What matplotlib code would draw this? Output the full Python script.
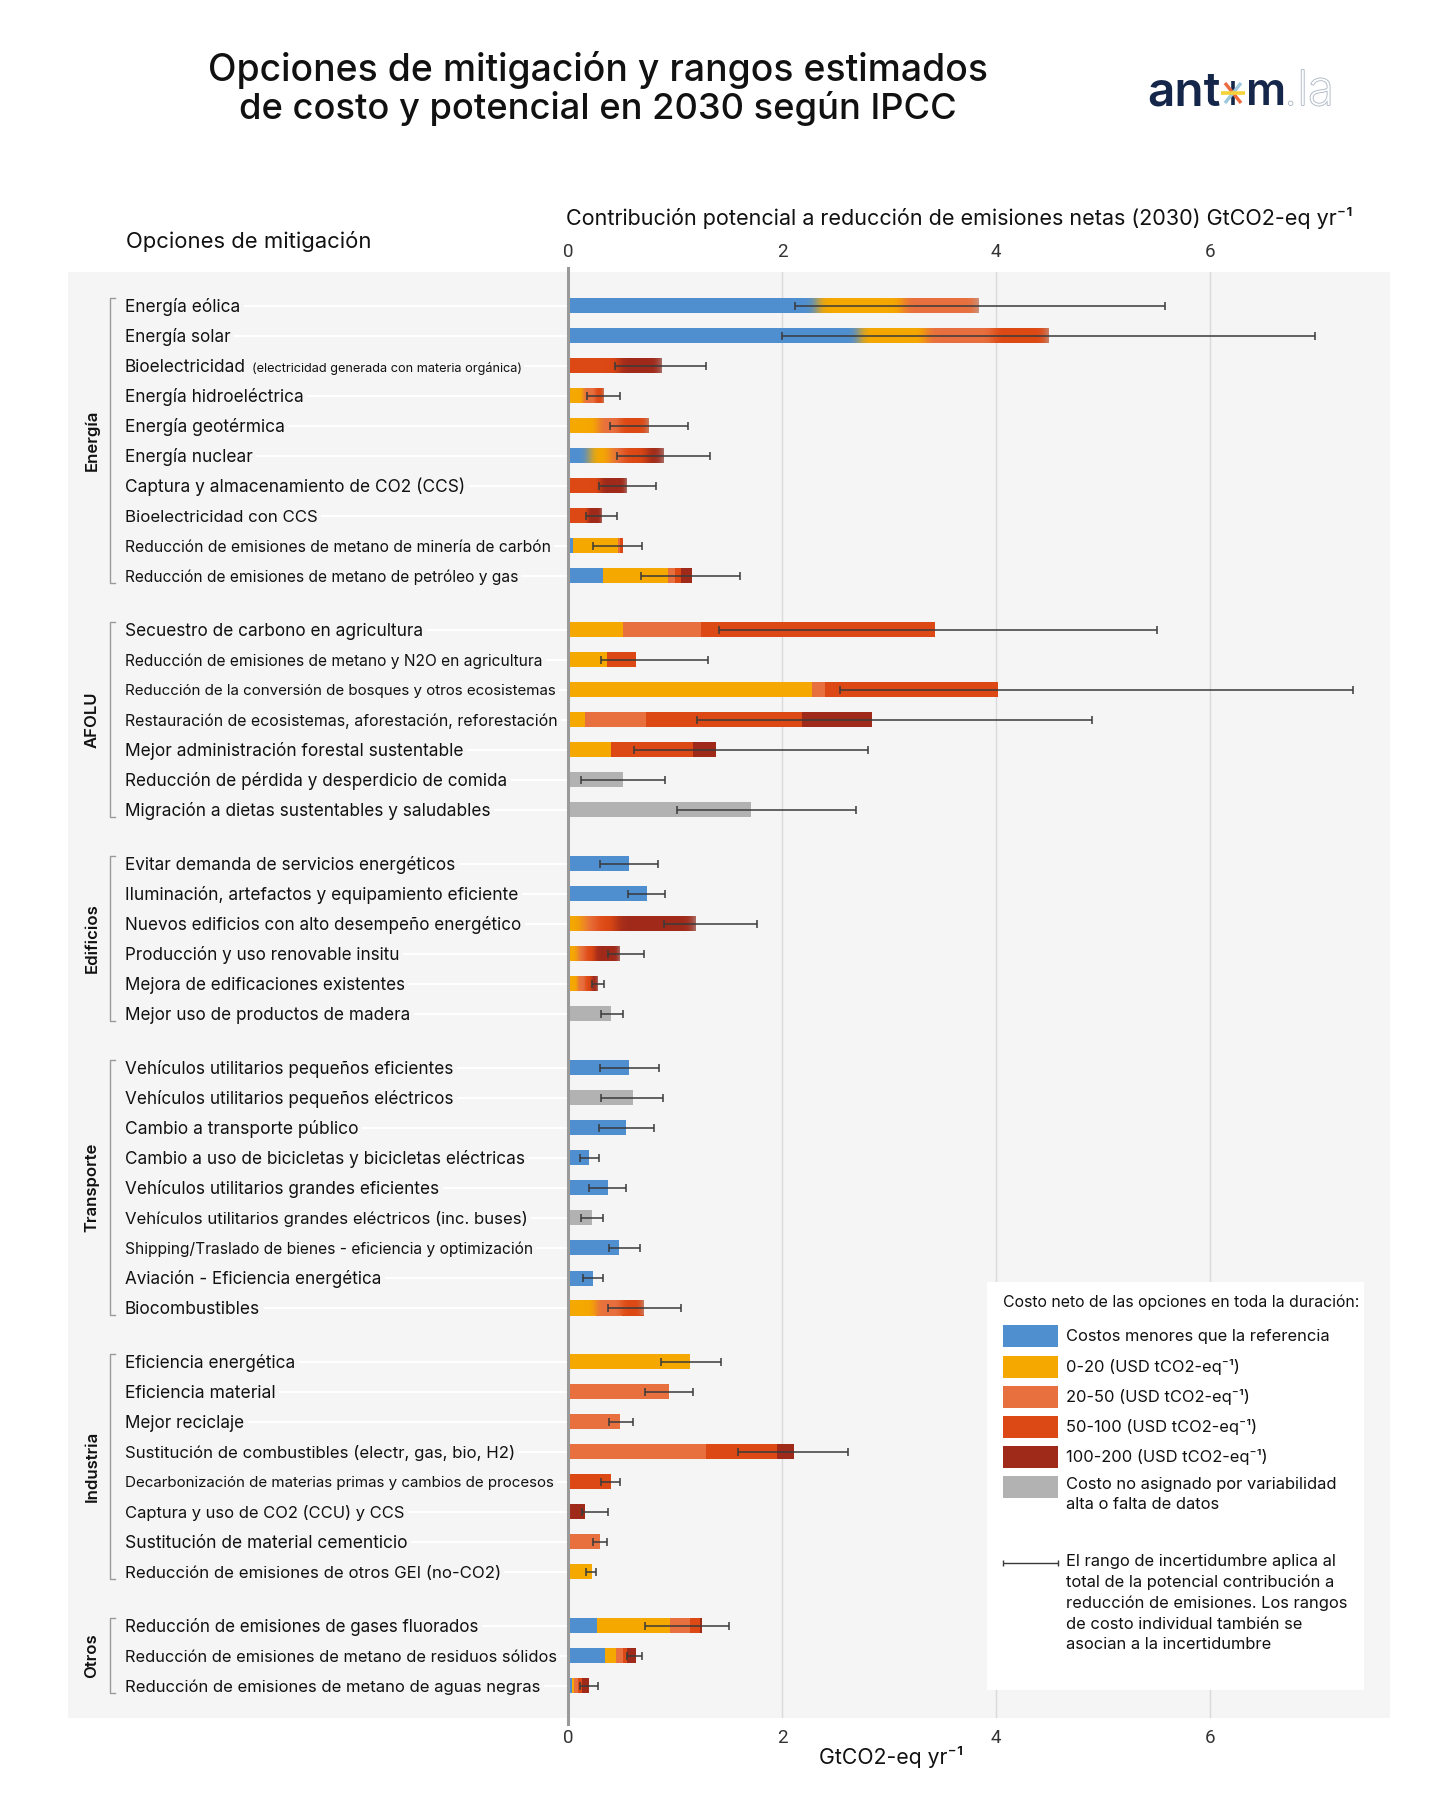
import matplotlib.pyplot as plt
import matplotlib.patheffects as pe
import numpy as np
from matplotlib import font_manager
from matplotlib.colors import to_rgb
from matplotlib.patches import Rectangle

plt.rcParams["font.family"] = ["Inter", "DejaVu Sans"]

# --- data -------------------------------------------------------------------
GROUPS = ["Energía", "AFOLU", "Edificios", "Transporte", "Industria", "Otros"]
GROUP_SIZES = [10, 7, 6, 9, 8, 3]

OPTIONS = [
    "Energía eólica", "Energía solar", "Bioelectricidad", "Energía hidroeléctrica",
    "Energía geotérmica", "Energía nuclear", "Captura y almacenamiento de CO2 (CCS)",
    "Bioelectricidad con CCS", "Reducción de emisiones de metano de minería de carbón",
    "Reducción de emisiones de metano de petróleo y gas",
    "Secuestro de carbono en agricultura",
    "Reducción de emisiones de metano y N2O en agricultura",
    "Reducción de la conversión de bosques y otros ecosistemas",
    "Restauración de ecosistemas, aforestación, reforestación",
    "Mejor administración forestal sustentable",
    "Reducción de pérdida y desperdicio de comida",
    "Migración a dietas sustentables y saludables",
    "Evitar demanda de servicios energéticos",
    "Iluminación, artefactos y equipamiento eficiente",
    "Nuevos edificios con alto desempeño energético",
    "Producción y uso renovable insitu", "Mejora de edificaciones existentes",
    "Mejor uso de productos de madera",
    "Vehículos utilitarios pequeños eficientes",
    "Vehículos utilitarios pequeños eléctricos", "Cambio a transporte público",
    "Cambio a uso de bicicletas y bicicletas eléctricas",
    "Vehículos utilitarios grandes eficientes",
    "Vehículos utilitarios grandes eléctricos (inc. buses)",
    "Shipping/Traslado de bienes - eficiencia y optimización",
    "Aviación - Eficiencia energética", "Biocombustibles",
    "Eficiencia energética", "Eficiencia material", "Mejor reciclaje",
    "Sustitución de combustibles (electr, gas, bio, H2)",
    "Decarbonización de materias primas y cambios de procesos",
    "Captura y uso de CO2 (CCU) y CCS", "Sustitución de material cementicio",
    "Reducción de emisiones de otros GEI (no-CO2)",
    "Reducción de emisiones de gases fluorados",
    "Reducción de emisiones de metano de residuos sólidos",
    "Reducción de emisiones de metano de aguas negras",
]
BIOELEC_NOTE = "(electricidad generada con materia orgánica)"

# contribution per cost band (GtCO2-eq/yr)
BLUE = [2.33, 2.72, 0, 0, 0, 0.20, 0, 0, 0.05, 0.33,
        0, 0, 0, 0, 0, 0, 0,
        0.57, 0.74, 0, 0, 0, 0,
        0.57, 0, 0.54, 0.20, 0.37, 0, 0.48, 0.23, 0,
        0, 0, 0, 0, 0, 0, 0, 0,
        0.27, 0.35, 0.04]
YELLOW = [0.80, 0.62, 0, 0.14, 0.28, 0.19, 0, 0, 0.42, 0.60,
          0.51, 0.36, 2.28, 0.16, 0.40, 0, 0,
          0, 0, 0.14, 0.09, 0.09, 0,
          0, 0, 0, 0, 0, 0, 0, 0, 0.26,
          1.14, 0, 0, 0, 0, 0, 0, 0.22,
          0.68, 0.10, 0.02]
ORANGE = [0.71, 0.63, 0, 0.11, 0.20, 0.12, 0, 0, 0.02, 0.07,
          0.73, 0, 0.12, 0.57, 0, 0, 0,
          0, 0, 0.12, 0.07, 0.07, 0,
          0, 0, 0, 0, 0, 0, 0, 0, 0.24,
          0, 0.94, 0.49, 1.29, 0, 0, 0.30, 0,
          0.19, 0.06, 0.03]
RED = [0, 0.52, 0.47, 0.08, 0.27, 0.22, 0.30, 0.18, 0.02, 0.06,
       2.19, 0.28, 1.62, 1.46, 0.77, 0, 0,
       0, 0, 0.19, 0.09, 0.06, 0,
       0, 0, 0, 0, 0, 0, 0, 0, 0.21,
       0, 0, 0, 0.66, 0.40, 0, 0, 0,
       0.09, 0.04, 0.04]
DARK = [0, 0, 0.40, 0, 0, 0.16, 0.25, 0.13, 0, 0.10,
        0, 0, 0, 0.65, 0.21, 0, 0,
        0, 0, 0.74, 0.23, 0.06, 0,
        0, 0, 0, 0, 0, 0, 0, 0, 0,
        0, 0, 0, 0.16, 0, 0.16, 0, 0,
        0.02, 0.09, 0.07]
GRAY = [0, 0, 0, 0, 0, 0, 0, 0, 0, 0,
        0, 0, 0, 0, 0, 0.51, 1.71,
        0, 0, 0, 0, 0, 0.40,
        0, 0.61, 0, 0, 0, 0.22, 0, 0, 0,
        0, 0, 0, 0, 0, 0, 0, 0,
        0, 0, 0]
# uncertainty range of total contribution
ERR_LOW = [2.12, 2.00, 0.44, 0.18, 0.39, 0.46, 0.29, 0.17, 0.23, 0.68,
           1.41, 0.31, 2.54, 1.21, 0.62, 0.12, 1.02,
           0.30, 0.56, 0.90, 0.37, 0.22, 0.31,
           0.30, 0.31, 0.29, 0.11, 0.20, 0.12, 0.38, 0.14, 0.37,
           0.87, 0.72, 0.38, 1.59, 0.31, 0.13, 0.23, 0.17,
           0.72, 0.55, 0.11]
ERR_HIGH = [5.58, 6.98, 1.29, 0.49, 1.12, 1.33, 0.82, 0.46, 0.69, 1.61,
            5.50, 1.31, 7.34, 4.90, 2.80, 0.91, 2.69,
            0.84, 0.91, 1.77, 0.71, 0.34, 0.51,
            0.85, 0.89, 0.80, 0.29, 0.54, 0.33, 0.67, 0.33, 1.06,
            1.43, 1.17, 0.61, 2.62, 0.49, 0.37, 0.36, 0.26,
            1.50, 0.69, 0.28]

LEGEND_LABELS = [
    "Costos menores que la referencia",
    "0-20 (USD tCO2-eq⁻¹)",
    "20-50 (USD tCO2-eq⁻¹)",
    "50-100 (USD tCO2-eq⁻¹)",
    "100-200 (USD tCO2-eq⁻¹)",
    "Costo no asignado por variabilidad\nalta o falta de datos",
]
XTICKS = [0, 2, 4, 6]

# --- style ------------------------------------------------------------------
COLORS = ["#4f8fd0", "#f5a800", "#e8703f", "#dd4914", "#a02a1a", "#b2b2b2"]
PANEL = "#f5f5f5"
INK = "#111111"
ERR_COLOR = "#3a3a3a"

# rows whose cost bands fade into each other in the original graphic
BLENDED = {0, 1, 2, 3, 4, 5, 6, 7, 19, 20, 21, 31}

# label widths in the reference (px), used to size each label
LABEL_W = [115, 105, 121, 178, 160, 127, 339, 193, 426, 394,
           297, 417, 434, 432, 338, 382, 364,
           330, 393, 395, 273, 280, 285,
           327, 327, 234, 399, 313, 402, 407, 256, 135,
           170, 151, 119, 390, 432, 280, 283, 376,
           354, 430, 416]

W, H = 1456, 1794
X0_PX, PX_UNIT = 568, 107          # x=0 position and px per GtCO2
ROW_PX, Y0_PX = 30, 306            # row pitch and first row centre
PANEL_L, PANEL_R, PANEL_T, PANEL_B = 68, 1390, 272, 1718
BAR_H = 0.5


def px_x(px):
    return (px - X0_PX) / PX_UNIT


# row positions with a gap between groups
ypos = []
row = 0.0
for g, n in enumerate(GROUP_SIZES):
    for _ in range(n):
        ypos.append(row)
        row += 1
    row += 0.8
ypos = np.array(ypos)

fig = plt.figure(figsize=(W / 100, H / 100), dpi=100)
fig.patch.set_facecolor("white")
renderer = fig.canvas.get_renderer()


def fit(t, width):
    w = t.get_window_extent(renderer=renderer).width
    t.set_fontsize(t.get_fontsize() * width / w)
    return t


# overlay in pixel coordinates for title, logo and axis titles
over = fig.add_axes([0, 0, 1, 1], zorder=0)
over.set_xlim(0, W)
over.set_ylim(H, 0)
over.axis("off")

t1 = over.text(598, 70, "Opciones de mitigación y rangos estimados", ha="center",
               va="center", fontsize=26, fontweight="medium", color=INK)
t2 = over.text(598, 109, "de costo y potencial en 2030 según IPCC", ha="center",
               va="center", fontsize=26, fontweight="medium", color=INK)
fit(t1, 780)
fit(t2, 718)

# logo
navy = "#14264a"
ta = over.text(1147, 105, "ant", ha="left", va="baseline", fontsize=30,
               fontweight="semibold", color=navy)
fit(ta, 73)
tm = over.text(1246, 105, "m", ha="left", va="baseline", fontsize=30,
               fontweight="semibold", color=navy)
fit(tm, 40)
tl = over.text(1284, 105, ".la", ha="left", va="baseline", fontsize=30,
               fontweight="light", color="white")
tl.set_path_effects([pe.Stroke(linewidth=1.2, foreground="#a9b3c2"), pe.Normal()])
fit(tl, 50)
cx, cy = 1233, 93
over.plot([cx, cx], [cy - 12, cy + 12], color=navy, lw=2.6, solid_capstyle="butt")
over.plot([cx - 8, cx + 8], [cy - 10, cy + 10], color="#ec6a3c", lw=2.4,
          solid_capstyle="butt")
over.plot([cx - 8, cx + 8], [cy + 10, cy - 10], color="#9cc7dc", lw=2.4,
          solid_capstyle="butt")
over.plot([cx - 12, cx + 12], [cy, cy], color="#f6d23a", lw=2.6, solid_capstyle="butt")

ttop = over.text(566, 218, "Contribución potencial a reducción de emisiones netas (2030) GtCO2-eq yr⁻¹",
                 ha="left", va="center", fontsize=14, color=INK)
fit(ttop, 788)
topt = over.text(126, 241, "Opciones de mitigación", ha="left", va="center",
                 fontsize=14, color=INK)
fit(topt, 245)
tbot = over.text(891, 1757, "GtCO2-eq yr⁻¹", ha="center", va="center",
                 fontsize=14, color=INK)
fit(tbot, 144)

# main panel
ax = fig.add_axes([PANEL_L / W, 1 - PANEL_B / H, (PANEL_R - PANEL_L) / W,
                   (PANEL_B - PANEL_T) / H], zorder=1)
ax.set_facecolor(PANEL)
for s in ax.spines.values():
    s.set_visible(False)
ax.set_yticks([])
ax.set_xticks(XTICKS)
tick_font = "Roboto"
names = {f.name for f in font_manager.fontManager.ttflist}
if "Liberation Sans Narrow" in names:
    tick_font = "Liberation Sans Narrow"
ax.tick_params(axis="x", top=True, labeltop=True, bottom=True, labelbottom=True,
               length=0, labelsize=13.5, labelcolor="#333333", pad=8)
for lab in ax.get_xticklabels():
    lab.set_fontfamily(tick_font)
ax.grid(axis="x", color="#dadada", lw=1.0, zorder=0)
ax.set_axisbelow(True)
ax.axvline(0, ymin=-0.004, ymax=1.003, color="#9a9a9a", lw=2.2, clip_on=False, zorder=4)

# stacked cost bands
bands = np.array([BLUE, YELLOW, ORANGE, RED, DARK, GRAY])
left = np.zeros(len(OPTIONS))
for vals, col in zip(bands, COLORS):
    ax.barh(ypos, vals, left=left, height=BAR_H, color=col, lw=0, zorder=2)
    left += vals

# soft transitions between bands on the blended rows
rgb = np.array([to_rgb(c) for c in COLORS])
for i in sorted(BLENDED):
    total = bands[:, i].sum()
    sigma = min(0.05, 0.05 * total)
    xs = np.linspace(0, total, 800)
    dx = xs[1] - xs[0]
    edges = np.cumsum(bands[:, i])
    idx = np.clip(np.searchsorted(edges, xs, side="right"), 0, len(COLORS) - 1)
    strip = rgb[idx]
    k = max(1, int(3 * sigma / dx))
    kern = np.exp(-0.5 * (np.arange(-k, k + 1) * dx / sigma) ** 2)
    kern /= kern.sum()
    padded = np.pad(strip, ((k, k), (0, 0)), mode="edge")
    smooth = np.stack([np.convolve(padded[:, c], kern, mode="valid") for c in range(3)], axis=1)
    ax.imshow(smooth[None, :, :], extent=(0, total, ypos[i] + BAR_H / 2, ypos[i] - BAR_H / 2),
              aspect="auto", interpolation="bilinear", zorder=2.5)

lo, hi = np.array(ERR_LOW), np.array(ERR_HIGH)
ax.errorbar((lo + hi) / 2, ypos, xerr=(hi - lo) / 2, fmt="none", ecolor=ERR_COLOR,
            elinewidth=1.1, capsize=2.6, capthick=1.1, zorder=5)

ax.set_xlim(px_x(PANEL_L), px_x(PANEL_R))
ax.set_ylim((PANEL_B - Y0_PX) / ROW_PX, (PANEL_T - Y0_PX) / ROW_PX)
ax.set_aspect("auto")

# option labels with white guide lines
label_x = px_x(125)
ax.hlines(ypos, label_x, 0, color="white", lw=1.5, zorder=1)
for i, (name, y) in enumerate(zip(OPTIONS, ypos)):
    t = ax.text(label_x, y + 0.04, name, ha="left", va="center", fontsize=12, color=INK,
                zorder=3, bbox=dict(boxstyle="square,pad=0.2", fc=PANEL, ec="none"))
    fit(t, LABEL_W[i])
    if i == 2:
        note = ax.annotate(BIOELEC_NOTE, xy=(1, 0.45), xycoords=t, xytext=(4, 0),
                           textcoords="offset points", ha="left", va="center",
                           fontsize=8, color=INK, zorder=3,
                           bbox=dict(boxstyle="square,pad=0.2", fc=PANEL, ec="none"))
        fit(note, 273)

# group brackets and names
start = 0
for name, n in zip(GROUPS, GROUP_SIZES):
    y0, y1 = ypos[start] - 0.27, ypos[start + n - 1] + 0.23
    xb, xt = px_x(110), px_x(115)
    ax.plot([xt, xb, xb, xt], [y0, y0, y1, y1], color="#9a9a9a", lw=1.0, zorder=3)
    ax.text(px_x(92), (y0 + y1) / 2, name, rotation=90, ha="center", va="center",
            fontsize=12, fontweight="semibold", color=INK, zorder=3)
    start += n

# legend box
leg = fig.add_axes([987 / W, 1 - 1690 / H, 377 / W, 408 / H], zorder=2)
leg.set_facecolor("white")
leg.set_xlim(987, 1364)
leg.set_ylim(1690, 1282)
leg.set_xticks([])
leg.set_yticks([])
for s in leg.spines.values():
    s.set_visible(False)

lt = leg.text(1003, 1302, "Costo neto de las opciones en toda la duración:", ha="left",
              va="center", fontsize=11, color=INK)
fit(lt, 354)
sw_y = [1336, 1367, 1397, 1427, 1457, 1487]
ref = None
for lab, col, yy in zip(LEGEND_LABELS, COLORS, sw_y):
    leg.add_patch(Rectangle((1003, yy - 11), 55, 22, color=col, lw=0))
    multi = "\n" in lab
    t = leg.text(1066, yy - 10 if multi else yy, lab, ha="left",
                 va="top" if multi else "center", fontsize=11.5, color=INK,
                 linespacing=1.45)
    if ref is None:
        fit(t, 263)
        ref = t.get_fontsize()
    else:
        t.set_fontsize(ref)

leg.errorbar(1030.5, 1563, xerr=27.5, fmt="none", ecolor=ERR_COLOR, elinewidth=1.0,
             capsize=2.5, capthick=1.0)
leg.text(1066, 1554, "El rango de incertidumbre aplica al\ntotal de la potencial contribución a\n"
         "reducción de emisiones. Los rangos\nde costo individual también se\n"
         "asocian a la incertidumbre", ha="left", va="top", fontsize=ref, color=INK,
         linespacing=1.45)

fig.savefig("out.png", dpi=100, facecolor="white")
